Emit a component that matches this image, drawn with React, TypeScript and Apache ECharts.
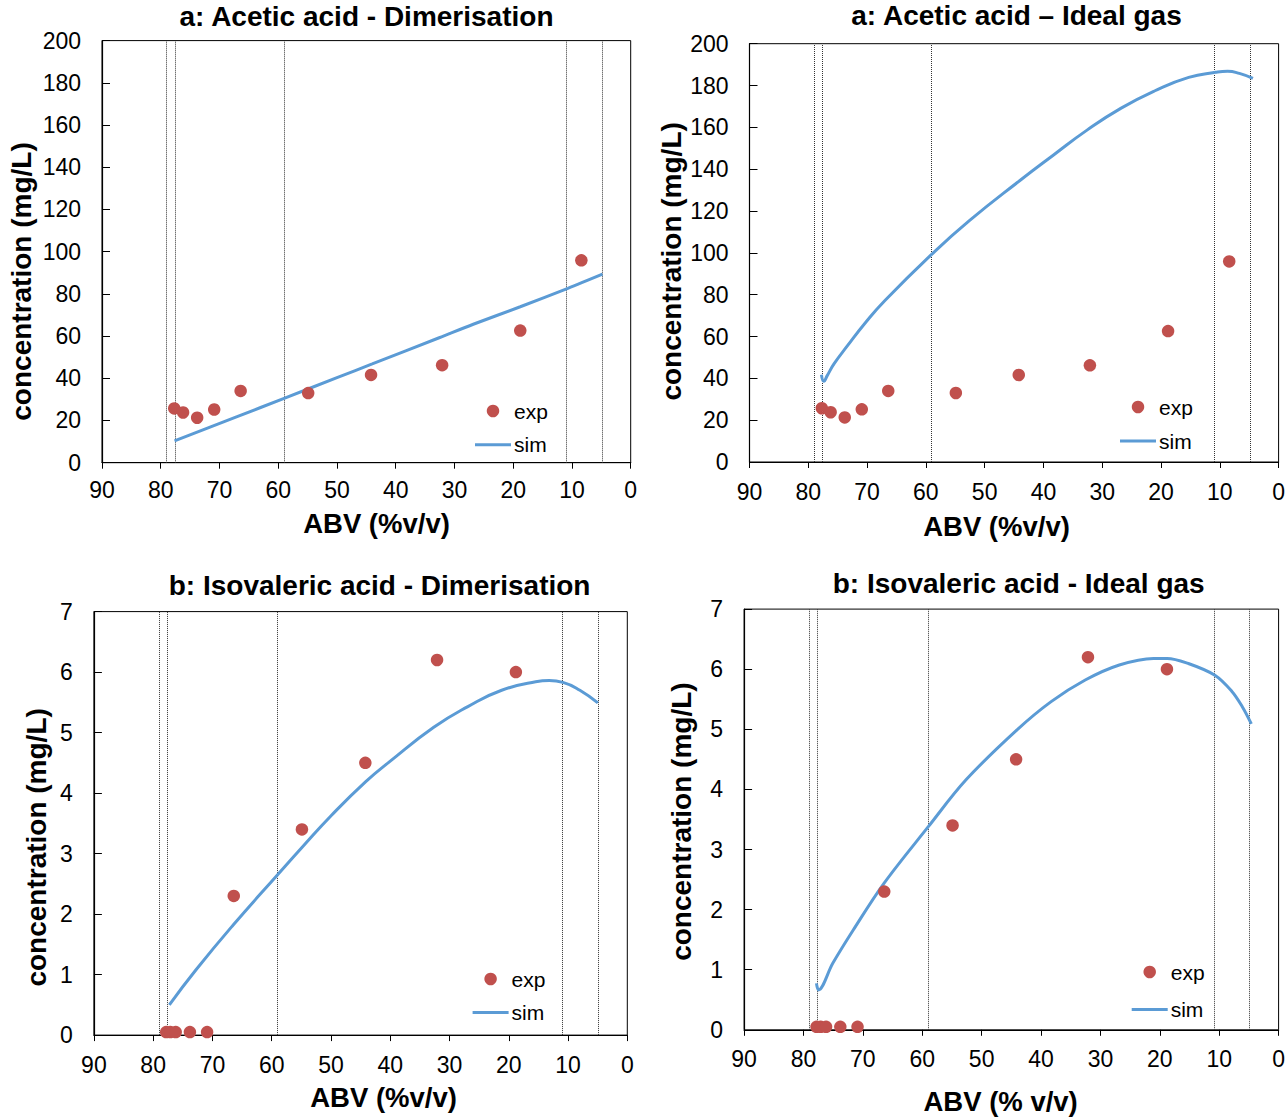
import React, { useEffect, useRef } from "react";
import * as echarts from "echarts";

const FONT = '"Liberation Sans", Arial, Helvetica, sans-serif';
const RED = "#C0504D";
const BLUE = "#5B9BD5";

// ---- Data ----
const stageBoundaries = [79.0, 77.6, 59.0, 10.9, 4.9];

const abvExpAcetic = [77.7, 76.2, 73.8, 70.9, 66.4, 54.9, 44.2, 32.1, 18.8, 8.4];
const concExpAcetic = [25.7, 23.8, 21.3, 25.2, 34.0, 33.0, 41.6, 46.2, 62.6, 95.9];

const abvExpIsovaleric = [77.8, 77.1, 76.2, 73.8, 70.9, 66.4, 54.9, 44.2, 32.1, 18.8];
const concExpIsovaleric = [0.05, 0.05, 0.05, 0.05, 0.05, 2.3, 3.4, 4.5, 6.2, 6.0];

const abvSimAceticDim = [77.65, 67.0, 59.0, 50.0, 44.0, 32.6, 26.8, 18.8, 10.7, 4.8];
const concSimAceticDim = [10.3, 21.8, 30.5, 40.3, 46.8, 59.2, 65.6, 73.9, 82.6, 89.3];

const abvSimAceticIdeal = [77.76, 77.36, 76.78, 75.63, 73.33, 70.46, 67.0, 58.97, 52.6, 44.0, 38.28, 32.53, 26.78, 21.03, 15.29, 10.69, 8.68, 6.67, 4.37];
const concSimAceticIdeal = [41.7, 38.6, 41.3, 46.9, 55.6, 66.0, 77.1, 99.4, 115.4, 134.6, 146.8, 158.8, 169.2, 177.5, 183.9, 186.3, 186.8, 185.8, 183.4];

const abvSimIsoDim = [77.27, 72.8, 66.5, 59.04, 54.9, 49.86, 44.13, 40.1, 32.66, 26.9, 21.2, 15.46, 13.17, 10.87, 8.0, 4.97];
const concSimIsoDim = [0.5, 1.076, 1.82, 2.646, 3.1, 3.638, 4.19, 4.52, 5.087, 5.43, 5.7, 5.84, 5.86, 5.83, 5.7, 5.49];

const abvSimIsoIdeal = [77.82, 77.48, 75.07, 71.62, 66.45, 58.98, 52.67, 44.05, 38.3, 32.56, 26.82, 21.07, 18.78, 15.33, 10.73, 7.86, 6.14, 4.59];
const concSimIsoIdeal = [0.773, 0.662, 1.106, 1.66, 2.437, 3.38, 4.156, 4.99, 5.46, 5.82, 6.07, 6.18, 6.18, 6.1, 5.9, 5.63, 5.38, 5.09];

const xTickMin = 0;
const xTickMax = 90;
const xTickStep = 10;
const yMaxAcetic = 200;
const yStepAcetic = 20;
const yMaxIso = 7;
const yStepIso = 1;

const titles = [
  "a: Acetic acid - Dimerisation",
  "a: Acetic acid \u2013 Ideal gas",
  "b: Isovaleric acid - Dimerisation",
  "b: Isovaleric acid - Ideal gas",
];
const xNames = ["ABV (%v/v)", "ABV (%v/v)", "ABV (%v/v)", "ABV (% v/v)"];
const yName = "concentration (mg/L)";

const pairs = (xs: number[], ys: number[]) => xs.map((x, i) => [x, ys[i]]);

// ---- Layout (positions only) ----
const panels = [
  {
    grid: { left: 102, top: 40.6, width: 528.7, height: 422.1 },
    xMargin: 16,
    title: [366.5, 16.6],
    xName: [376.5, 523.5],
    yNamePos: [21, 281.5],
    legend: { left: 475, top: 400.5, itemGap: 12.7 },
    yMax: yMaxAcetic, yStep: yStepAcetic, smooth: 0.3,
    exp: pairs(abvExpAcetic, concExpAcetic),
    sim: pairs(abvSimAceticDim, concSimAceticDim),
  },
  {
    grid: { left: 749.5, top: 43.7, width: 532.3, height: 418.3 },
    xMargin: 18,
    title: [1016.5, 15.3],
    xName: [996.5, 526.5],
    yNamePos: [671, 261.4],
    legend: { left: 1120, top: 396.5, itemGap: 13 },
    yMax: yMaxAcetic, yStep: yStepAcetic, smooth: 0.5,
    exp: pairs(abvExpAcetic, concExpAcetic),
    sim: pairs(abvSimAceticIdeal, concSimAceticIdeal),
  },
  {
    grid: { left: 93.9, top: 611.6, width: 533.4, height: 423.5 },
    xMargin: 18,
    title: [379.6, 585.5],
    xName: [383.6, 1097.8],
    yNamePos: [36.7, 847.4],
    legend: { left: 472.6, top: 968.5, itemGap: 12.5 },
    yMax: yMaxIso, yStep: yStepIso, smooth: 0.5,
    exp: pairs(abvExpIsovaleric, concExpIsovaleric),
    sim: pairs(abvSimIsoDim, concSimIsoDim),
  },
  {
    grid: { left: 744.1, top: 609.1, width: 537.6, height: 420.7 },
    xMargin: 17.5,
    title: [1018.7, 583.7],
    xName: [1000.6, 1101.5],
    yNamePos: [681.3, 821.6],
    legend: { left: 1131.7, top: 961.5, itemGap: 16.4 },
    yMax: yMaxIso, yStep: yStepIso, smooth: 0.35,
    exp: pairs(abvExpIsovaleric, concExpIsovaleric),
    sim: pairs(abvSimIsoIdeal, concSimIsoIdeal),
  },
];

function buildOption() {
  const grid: any[] = [];
  const xAxis: any[] = [];
  const yAxis: any[] = [];
  const series: any[] = [];
  const legend: any[] = [];
  const graphic: any[] = [];

  const textEl = (x: number, y: number, text: string, size: number, rot = 0) => ({
    type: "text",
    x,
    y,
    rotation: rot,
    style: {
      text,
      fill: "#000",
      fontSize: size,
      fontWeight: "bold",
      fontFamily: FONT,
      textAlign: "center",
      textVerticalAlign: "middle",
    },
  });

  panels.forEach((p, i) => {
    grid.push({
      ...p.grid,
      show: true,
      borderColor: "#000",
      borderWidth: 1,
      backgroundColor: "transparent",
      containLabel: false,
    });
    xAxis.push({
      gridIndex: i,
      type: "value",
      min: xTickMin,
      max: xTickMax,
      interval: xTickStep,
      inverse: true,
      axisLine: { show: true, onZero: false, lineStyle: { color: "#000", width: 1.2 } },
      axisTick: { show: true, inside: false, length: 6, lineStyle: { color: "#000", width: 1 } },
      axisLabel: { color: "#000", fontSize: 23, fontFamily: FONT, margin: p.xMargin },
      splitLine: { show: false },
    });
    yAxis.push({
      gridIndex: i,
      type: "value",
      min: 0,
      max: p.yMax,
      interval: p.yStep,
      axisLine: { show: true, onZero: false, lineStyle: { color: "#000", width: 1.2 } },
      axisTick: { show: true, inside: true, length: 8, lineStyle: { color: "#000", width: 1 } },
      axisLabel: { color: "#000", fontSize: 23, fontFamily: FONT, margin: 21 },
      splitLine: { show: false },
    });
    series.push({
      name: "sim",
      type: "line",
      xAxisIndex: i,
      yAxisIndex: i,
      data: p.sim,
      symbol: "none",
      showSymbol: false,
      smooth: p.smooth,
      lineStyle: { color: BLUE, width: 3 },
      itemStyle: { color: BLUE },
      z: 3,
      markLine: {
        silent: true,
        symbol: ["none", "none"],
        label: { show: false },
        lineStyle: { type: "dotted", color: "#333", width: 1 },
        data: stageBoundaries.map((v) => ({ xAxis: v })),
        z: 1,
      },
    });
    series.push({
      name: "exp",
      type: "scatter",
      xAxisIndex: i,
      yAxisIndex: i,
      data: p.exp,
      symbol: "circle",
      symbolSize: 12.5,
      itemStyle: { color: RED, opacity: 1 },
      clip: false,
      z: 4,
    });
    legend.push({
      orient: "vertical",
      left: p.legend.left,
      top: p.legend.top,
      itemGap: p.legend.itemGap,
      itemWidth: 36,
      itemHeight: 12.5,
      padding: 0,
      selectedMode: false,
      data: [
        { name: "exp", icon: "circle" },
        { name: "sim", icon: "path://M0 0H36V3H0Z", itemStyle: { color: BLUE } },
      ],
      textStyle: { color: "#000", fontSize: 21, fontFamily: FONT, padding: [0, 0, 0, -2] },
    });
    graphic.push(textEl(p.title[0], p.title[1], titles[i], 28));
    graphic.push(textEl(p.xName[0], p.xName[1], xNames[i], 27.5));
    graphic.push(textEl(p.yNamePos[0], p.yNamePos[1], yName, 28, Math.PI / 2));
  });

  return {
    animation: false,
    backgroundColor: "#fff",
    textStyle: { fontFamily: FONT },
    grid,
    xAxis,
    yAxis,
    series,
    legend,
    graphic,
  };
}

export default function App() {
  const ref = useRef<HTMLDivElement>(null);
  useEffect(() => {
    document.body.style.margin = "0";
    if (!ref.current) return;
    const chart = echarts.init(ref.current, undefined, { renderer: "svg" });
    chart.setOption(buildOption() as any);
    return () => chart.dispose();
  }, []);
  return <div ref={ref} style={{ width: 1288, height: 1118 }} />;
}
